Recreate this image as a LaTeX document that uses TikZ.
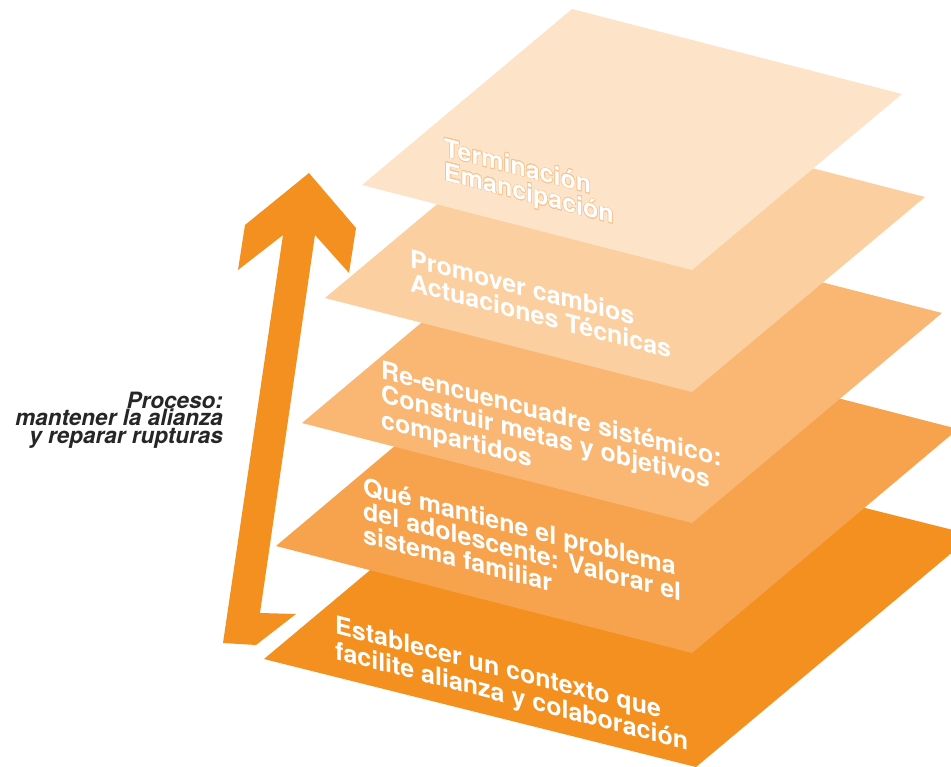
\documentclass[tikz,border=0pt]{standalone}
\usepackage{fontspec}
\setmainfont{TeX Gyre Heros}
\usepackage{contour}
\contourlength{0.5pt}
\definecolor{capaA}{HTML}{F39020}
\definecolor{capaB}{HTML}{F7A24C}
\definecolor{capaC}{HTML}{FAB774}
\definecolor{capaD}{HTML}{FBCF9F}
\definecolor{capaE}{HTML}{FDE4C8}
\definecolor{borde}{HTML}{F9C28E}
\tikzset{
  x=1pt,y=-1pt,
}
\tikzstyle{capa}=[draw=none]
\tikzstyle{flecha}=[fill=capaA,draw=none]
\tikzstyle{texto capa}=[text=white,font=\bfseries\fontsize{25}{24}\selectfont,
  align=left,anchor=base west,inner sep=0pt,yslant=-0.2576]
\tikzstyle{proceso}=[text=black!85,font=\bfseries\itshape\fontsize{22.5}{17.5}\selectfont,
  align=right,anchor=base east,inner sep=0pt]

\begin{document}
\begin{tikzpicture}
    \useasboundingbox (0,0) rectangle (951,767);
    \clip (0,0) rectangle (951,767);
    \fill[capa,capaA] (264,659)--(541,427)--(973,535)--(696,767)--cycle;
    \fill[capa,capaB] (276,546)--(542,322)--(958,429)--(692,653)--cycle;
    \fill[capa,capaC] (302,423)--(552,213)--(942,313)--(692,523)--cycle;
    \fill[capa,capaD] (325,298)--(558,103)--(925,197)--(692,392)--cycle;
    \fill[capa,capaE] (362,185)--(572,9)--(902,94)--(692,270)--cycle;
    % flecha del proceso
    \fill[flecha] (309,173)--(356,228)--(349,273)--(315,235)--(260,613)--(296,614)
      --(256,645)--(223,643)--(283,235)--(238,270)--(245,225)--cycle;
    % textos: el ancla es la linea base de la ultima linea
    \node[texto capa] (establecer) at (335,659)
      {Establecer un contexto que\\facilite alianza y colaboración};
    \node[texto capa] (mantiene) at (363,543)
      {Qué mantiene el problema\\del adolescente: Valorar el\\sistema familiar};
    \node[texto capa] (reencuadre) at (381,428)
      {Re-encuencuadre sistémico:\\Construir metas y objetivos\\compartidos};
    \node[texto capa] (promover) at (410,291)
      {Promover cambios\\Actuaciones Técnicas};
    \node[texto capa] (terminacion) at (444,180)
      {\contour{borde}{Terminación}\\\contour{borde}{Emancipación}};
    \node[proceso] (proceso) at (223,443)
      {Proceso:\\mantener la alianza\\y reparar rupturas};
\end{tikzpicture}
\end{document}
